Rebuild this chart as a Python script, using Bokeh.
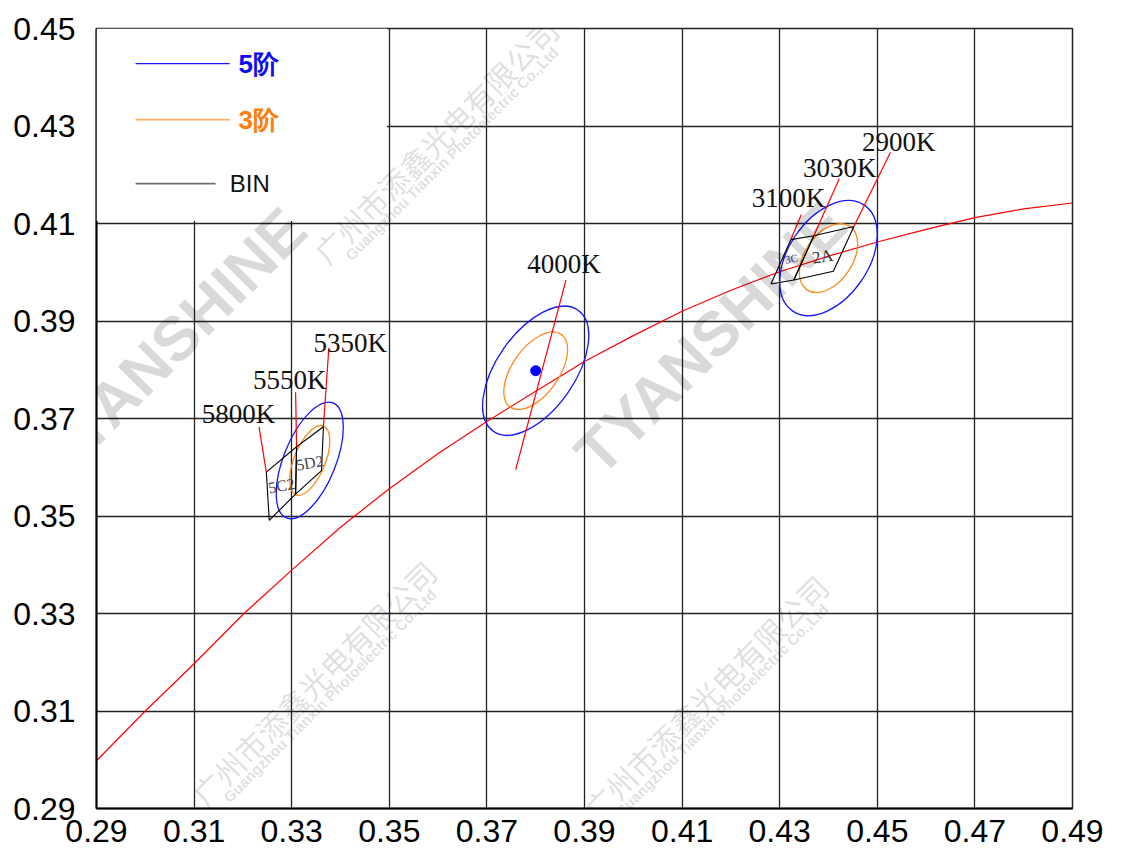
from bokeh.plotting import figure
from bokeh.models import FixedTicker, BoxAnnotation, Label
from bokeh.core.properties import value
from bokeh.embed import file_html
from bokeh.resources import INLINE

# ---------------- data ----------------
x_ticks = [0.29, 0.31, 0.33, 0.35, 0.37, 0.39, 0.41, 0.43, 0.45, 0.47, 0.49]
x_tick_labels = ["0.29", "0.31", "0.33", "0.35", "0.37", "0.39", "0.41", "0.43", "0.45", "0.47", "0.49"]
y_ticks = [0.29, 0.31, 0.33, 0.35, 0.37, 0.39, 0.41, 0.43, 0.45]
y_tick_labels = ["0.29", "0.31", "0.33", "0.35", "0.37", "0.39", "0.41", "0.43", "0.45"]

# black-body locus (red curve)
locus_x = [0.29, 0.30, 0.31, 0.32, 0.33, 0.34, 0.35, 0.36, 0.37, 0.38, 0.39,
           0.40, 0.41, 0.42, 0.43, 0.44, 0.45, 0.46, 0.47, 0.48, 0.49]
locus_y = [0.2998, 0.3100, 0.3197, 0.3298, 0.3389, 0.3477, 0.3556, 0.3628, 0.3694, 0.3756, 0.3817,
           0.3870, 0.3920, 0.3963, 0.4001, 0.4033, 0.4062, 0.4088, 0.4112, 0.4130, 0.4142]

# MacAdam ellipses (5-step blue, 3-step orange)
ellipse_x = [0.3337, 0.3800, 0.4400]
ellipse_y = [0.3614, 0.3798, 0.4029]
ellipse5_w = [0.0254, 0.0303, 0.0262]
ellipse5_h = [0.0107, 0.0160, 0.0164]
ellipse3_w = [0.0152, 0.0182, 0.0157]
ellipse3_h = [0.0064, 0.0096, 0.0098]
ellipse_angle = [68, 55, 56]

target_x = [0.3800]
target_y = [0.3798]

# BIN quadrilaterals
bin_names = ["5C2", "5D2", "3C", "2A"]
bin_xs = [[0.3248, 0.3310, 0.3308, 0.3254],
          [0.3310, 0.3365, 0.3361, 0.3308],
          [0.4323, 0.4370, 0.4329, 0.4282],
          [0.4370, 0.4452, 0.4410, 0.4329]]
bin_ys = [[0.3590, 0.3642, 0.3545, 0.3491],
          [0.3642, 0.3683, 0.3593, 0.3545],
          [0.4067, 0.4075, 0.3984, 0.3976],
          [0.4075, 0.4094, 0.4002, 0.3984]]
bin_label_x = [0.3279, 0.3337, 0.4324, 0.4388]
bin_label_y = [0.3562, 0.3609, 0.4028, 0.4032]
bin_label_size = ["16px", "16px", "11px", "17px"]
bin_label_color = ["#444444", "#444444", "#3a3aa0", "#333333"]

# CCT pointer lines and labels
cct_names = ["5800K", "5550K", "5350K", "4000K", "3100K", "3030K", "2900K"]
cct_x0 = [0.3233, 0.3308, 0.3376, 0.3862, 0.4344, 0.4422, 0.4527]
cct_y0 = [0.3683, 0.3754, 0.3843, 0.3984, 0.4118, 0.4192, 0.4246]
cct_x1 = [0.3248, 0.3310, 0.3365, 0.3759, 0.4323, 0.4370, 0.4452]
cct_y1 = [0.3590, 0.3642, 0.3683, 0.3595, 0.4067, 0.4075, 0.4094]
cct_label_x = [0.3191, 0.3296, 0.3420, 0.3858, 0.4318, 0.4423, 0.4544]
cct_label_y = [0.3690, 0.3761, 0.3837, 0.3999, 0.4133, 0.4196, 0.4248]

# legend entries (drawn inside the top-left of the plot)
legend_labels = ["5阶", "3阶", "BIN"]
legend_line_colors = ["#1a1aff", "#ffae66", "#707070"]
legend_text_colors = ["#0d0df5", "#ff7d0a", "#111111"]

# ---------------- figure ----------------
p = figure(width=1126, height=856, x_range=(0.29, 0.49), y_range=(0.29, 0.45),
           output_backend="svg", toolbar_location=None,
           min_border_left=96, min_border_right=54, min_border_top=28, min_border_bottom=48)
p.background_fill_color = "white"
p.border_fill_color = "white"
p.outline_line_color = "#222222"
p.outline_line_width = 1.5

p.xaxis.ticker = FixedTicker(ticks=x_ticks)
p.yaxis.ticker = FixedTicker(ticks=y_ticks)
p.xaxis.major_label_overrides = dict(zip(x_ticks, x_tick_labels))
p.yaxis.major_label_overrides = dict(zip(y_ticks, y_tick_labels))
for ax in (p.xaxis, p.yaxis):
    ax.major_tick_out = 0
    ax.major_tick_in = 0
    ax.minor_tick_out = 0
    ax.minor_tick_in = 0
    ax.axis_line_color = "black"
    ax.axis_line_width = 2
    ax.major_label_text_font = "Liberation Sans"
    ax.major_label_text_font_size = "32px"
    ax.major_label_text_color = "black"
p.xaxis.major_label_standoff = 11
p.yaxis.major_label_standoff = 21

p.grid.grid_line_color = "#222222"
p.grid.grid_line_width = 1.3

# locus
p.line(locus_x, locus_y, line_color="#ff0000", line_width=1.2)

# ellipses
p.ellipse(x=ellipse_x, y=ellipse_y, width=ellipse5_w, height=ellipse5_h,
          angle=ellipse_angle, angle_units="deg",
          fill_alpha=0, line_color="#1515ff", line_width=1.3)
p.ellipse(x=ellipse_x, y=ellipse_y, width=ellipse3_w, height=ellipse3_h,
          angle=ellipse_angle, angle_units="deg",
          fill_alpha=0, line_color="#ff8a1c", line_width=1.3)
p.scatter(target_x, target_y, size=10, color="#0000ff")

# BIN quads
p.patches(bin_xs, bin_ys, fill_alpha=0, line_color="black", line_width=1.1)
p.text(x=bin_label_x, y=bin_label_y, text=bin_names, text_font=value("Liberation Serif"),
       text_font_size=bin_label_size, text_color=bin_label_color,
       text_align="center", text_baseline="middle", angle=10, angle_units="deg")

# CCT pointers and labels
p.segment(x0=cct_x0, y0=cct_y0, x1=cct_x1, y1=cct_y1, line_color="#ff0000", line_width=1.2)
p.text(x=cct_label_x, y=cct_label_y, text=cct_names, text_font=value("Liberation Serif"),
       text_font_size="27px", text_color="#111111", y_offset=-9,
       text_align="center", text_baseline="alphabetic")

# ---------------- legend (white box, sample lines, coloured labels) ----------------
p.add_layout(BoxAnnotation(left=0.29, right=0.3495, bottom=0.4105, top=0.45,
                           fill_color="white", fill_alpha=1, line_alpha=0))
leg_line_x0 = [0.2980, 0.2980, 0.2980]
leg_line_x1 = [0.3173, 0.3173, 0.3144]
leg_row_y = [0.4428, 0.4313, 0.4182]
leg_text_x = [0.3191, 0.3191, 0.3173]
leg_line_w = [1.2, 1.8, 1.8]
leg_font_style = ["bold", "bold", "normal"]
leg_font_size = ["26px", "26px", "24px"]
for i in range(3):
    p.segment(x0=[leg_line_x0[i]], y0=[leg_row_y[i]], x1=[leg_line_x1[i]], y1=[leg_row_y[i]],
              line_color=legend_line_colors[i], line_width=leg_line_w[i], level="overlay")
    p.text(x=[leg_text_x[i]], y=[leg_row_y[i]], text=[legend_labels[i]],
           text_font=value("Liberation Sans"), text_font_style=leg_font_style[i],
           text_font_size=leg_font_size[i], text_color=legend_text_colors[i],
           text_align="left", text_baseline="middle", level="overlay")

# ---------------- watermarks ----------------
wm_brand_x = [0.3052, 0.4158]
wm_brand_y = [0.3854, 0.3864]
for wx, wy in zip(wm_brand_x, wm_brand_y):
    p.add_layout(Label(x=wx, y=wy, text="TYANSHINE", angle=45, angle_units="deg",
                       text_align="center", text_baseline="middle",
                       text_font="Liberation Sans", text_font_style="bold",
                       text_font_size="62px", text_color="black", text_alpha=0.15,
                       level="overlay"))

wm_cn_x = [0.3345, 0.4148, 0.3595]
wm_cn_y = [0.3158, 0.3128, 0.4270]
for wx, wy in zip(wm_cn_x, wm_cn_y):
    p.add_layout(Label(x=wx, y=wy, text="广州市添鑫光电有限公司", angle=45, angle_units="deg",
                       text_align="center", text_baseline="middle",
                       text_font="Noto Sans CJK SC", text_font_size="30px",
                       text_color="black", text_alpha=0.14, level="overlay"))
    p.add_layout(Label(x=wx + 0.0033, y=wy - 0.0027, text="Guangzhou Tianxin Photoelectric Co.,Ltd",
                       angle=45, angle_units="deg",
                       text_align="center", text_baseline="middle",
                       text_font="Liberation Sans", text_font_style="bold", text_font_size="15px",
                       text_color="black", text_alpha=0.14, level="overlay"))

open("out.html", "w").write(file_html(p, INLINE))
